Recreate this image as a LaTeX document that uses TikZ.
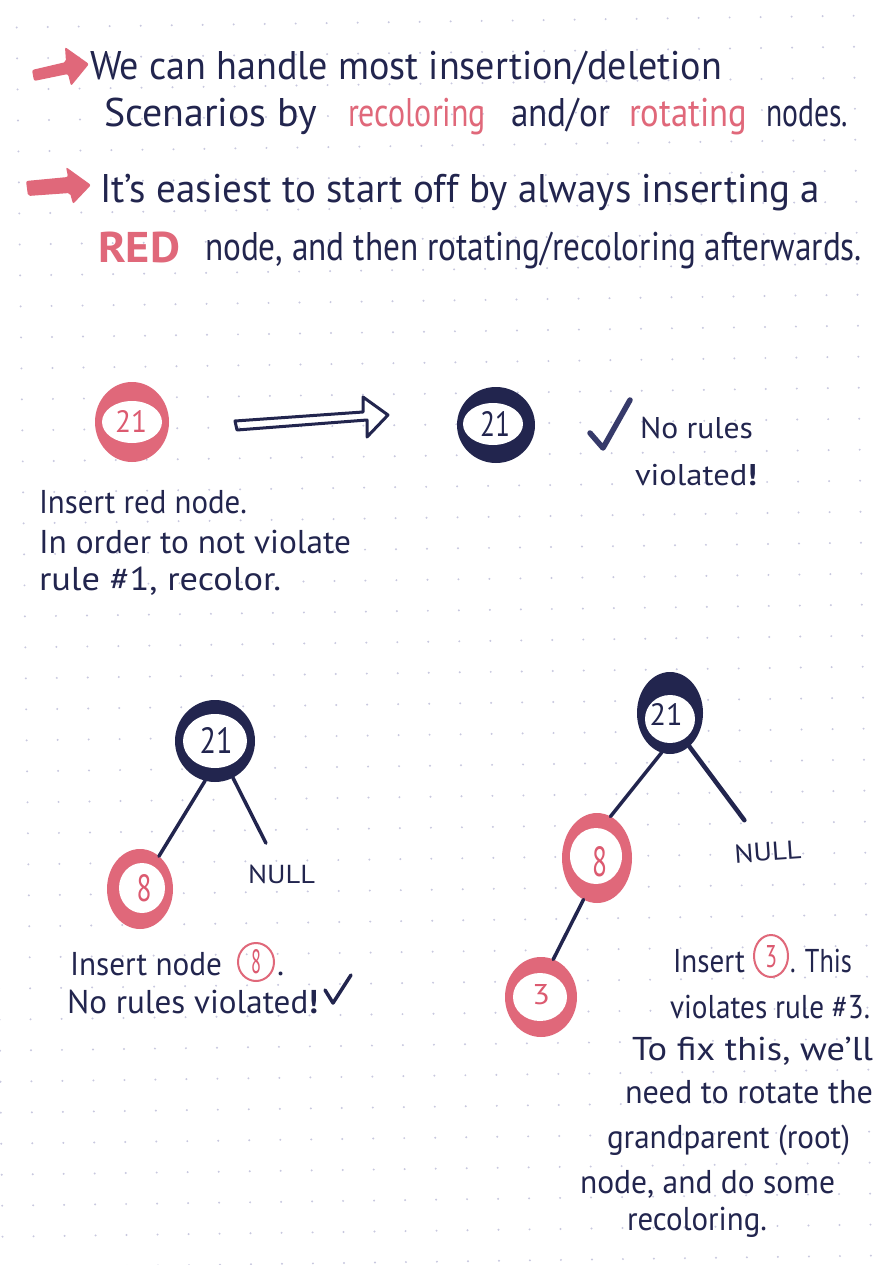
\documentclass[tikz,border=0pt]{standalone}
\usepackage{fontspec}
\setmainfont{PT Sans}
\usetikzlibrary{shapes.geometric}
\definecolor{navy}{HTML}{22254E}
\definecolor{pinkc}{HTML}{E0687A}
\definecolor{pinkt}{HTML}{DC5A70}
\definecolor{dotc}{HTML}{C8C8DF}
\definecolor{chk}{HTML}{363A6A}
\newcommand\fitw[2]{\resizebox{#1pt}{\height}{#2}}
\newcommand\fitwh[3]{\resizebox{#1pt}{#2pt}{#3}}
\begin{document}
\begin{tikzpicture}[x=1pt,y=-1pt,
  txt/.style={anchor=base west, inner sep=0pt, outer sep=0pt, text=navy, font=\fontsize{33}{33}\selectfont},
  big/.style={txt, font=\fontsize{40}{40}\selectfont},
  pinkword/.style={big, text=pinkc},
  ring/.style={ellipse, inner sep=0pt, outer sep=0pt, draw=none},
  pinkring/.style={ring, fill=pinkc},
  navyring/.style={ring, fill=navy},
  hole/.style={ring, fill=white},
  lab/.style={inner sep=0pt, outer sep=0pt},
  edgeline/.style={draw=navy, line width=3.5pt, line cap=round},
  smallcirc/.style={ellipse, draw=pinkc, line width=2pt, inner sep=0pt},
  nullstyle/.style={txt, font=\fontsize{26}{26}\selectfont},
]
\useasboundingbox (0,0) rectangle (880,1265);
\fill[white] (0,0) rectangle (880,1265);
% dot grid
\begin{scope}[rotate around={0.8:(49,120)}]
\foreach \i in {-1,...,29}{
  \foreach \j in {-1,...,41}{
    \fill[dotc] (18+31*\i, 27+31*\j) circle[radius=1.1pt];
  }
}
\end{scope}

% pink bullet arrows
\fill[pinkc, rounded corners=2pt] (32,70) -- (66,62) -- (65,47) -- (89,64) -- (71,86) -- (68,74) -- (34,81) -- cycle;
\fill[pinkc, rounded corners=2pt] (26,181) -- (68,177) -- (66,167) -- (91,185) -- (73,204) -- (70,193) -- (28,196) -- cycle;

% header text
\node[big] (t1) at (90,80) {\fitw{632}{We can handle most insertion/deletion}};
\node[big] (t2a) at (104,127) {\fitw{213}{Scenarios by}};
\node[pinkword] (t2b) at (348,127) {\fitw{138}{recoloring}};
\node[big] (t2c) at (511,127) {\fitw{99}{and/or}};
\node[pinkword] (t2d) at (629,127) {\fitw{118}{rotating}};
\node[big] (t2e) at (766,127) {\fitw{82}{nodes.}};
\node[big] (t3) at (100,203) {\fitw{720}{It’s easiest to start off by always inserting a}};
\node[big, text=pinkc, font=\fontsize{43}{43}\selectfont\bfseries] (t4a) at (98,262) {\fitw{82}{RED}};
\node[big] (t4b) at (205,260) {\fitw{657}{node, and then rotating/recoloring afterwards.}};

% first row: pink 21 -> navy 21
\node[pinkring, minimum width=74pt, minimum height=80pt] (p21) at (132,422) {};
\node[hole, minimum width=60pt, minimum height=42pt] (p21h) at (132,422) {};
\node[lab, text=pinkt, font=\fontsize{30}{30}\selectfont] (p21l) at (131,421) {\fitwh{32}{22}{21}};

\draw[navy, line width=3pt, line join=round] (235,421) -- (363,412) -- (363,397) -- (388,415) -- (367,437) -- (367,420) -- (237,430) -- cycle;

\node[navyring, minimum width=78pt, minimum height=76pt] (n21) at (496,425) {};
\node[hole, minimum width=60pt, minimum height=42pt] (n21h) at (493,424) {};
\node[lab, text=navy, font=\fontsize{30}{30}\selectfont] (n21l) at (495,424) {\fitwh{30}{25}{21}};

\draw[chk, line width=5.5pt, line cap=round, line join=round] (590,433) -- (603,448) -- (630,400);
\node[txt, font=\fontsize{30}{30}\selectfont] (nr1) at (640,438) {\fitw{113}{No rules}};
\node[txt, font=\fontsize{30}{30}\selectfont] (nr2) at (635,485) {\fitw{122}{violated\textbf{!}}};

\node[txt] (u1) at (39,513) {\fitw{208}{Insert red node.}};
\node[txt] (u2) at (39,553) {\fitw{312}{In order to not violate}};
\node[txt] (u3) at (39,590) {\fitw{242}{rule \#1, recolor.}};

% tree 1
\node[navyring, minimum width=80pt, minimum height=82pt] (r1) at (215,741) {};
\node[hole, minimum width=64pt, minimum height=54pt] (r1h) at (215,741) {};
\node[lab, text=navy, font=\fontsize{30}{30}\selectfont] (r1l) at (216,740) {\fitwh{33}{26}{21}};

\node[pinkring, minimum width=66pt, minimum height=80pt] (a8) at (140,889) {};
\node[hole, minimum width=46pt, minimum height=50pt] (a8h) at (142,888) {};
\node[lab, text=pinkt, font=\fontsize{30}{30}\selectfont] (a8l) at (144,888) {\fitwh{15}{27}{8}};

\node[nullstyle] (null1) at (248,883) {\fitw{67}{NULL}};

\draw[edgeline] (r1.-104) -- (a8.60);
\draw[edgeline, shorten >=24pt] (r1.-64) -- (null1);

\node[txt] (v1a) at (70,975) {\fitw{152}{Insert node}};
\node[smallcirc, minimum width=36pt, minimum height=38pt] (ic8) at (256,962) {};
\node[lab, text=pinkt, font=\fontsize{24}{24}\selectfont] (ic8l) at (256,962) {\fitwh{10}{24}{8}};
\node[txt] (v1b) at (277,975) {.};
\node[txt] (v2) at (67,1013) {\fitw{251}{No rules violated\textbf{!}}};
\draw[navy, line width=3.5pt, line cap=round, line join=round] (325,990) -- (333,1003) -- (351,975);

% tree 2
\node[navyring, minimum width=66pt, minimum height=82pt] (r2) at (670,713) {};
\node[hole, minimum width=50pt, minimum height=48pt] (r2h) at (670,719) {};
\node[lab, text=navy, font=\fontsize{28}{28}\selectfont] (r2l) at (666,714) {\fitwh{33}{22}{21}};

\node[pinkring, minimum width=70pt, minimum height=90pt] (b8) at (597,858) {};
\node[hole, minimum width=52pt, minimum height=56pt] (b8h) at (596,856) {};
\node[lab, text=pinkt, font=\fontsize{30}{30}\selectfont] (b8l) at (600,862) {\fitwh{15}{30}{8}};

\node[pinkring, minimum width=72pt, minimum height=80pt] (c3) at (541,997) {};
\node[hole, minimum width=54pt, minimum height=48pt] (c3h) at (540,997) {};
\node[lab, text=pinkt, font=\fontsize{28}{28}\selectfont] (c3l) at (541,995) {\fitwh{18}{20}{3}};

\node[nullstyle, rotate=4] (null2) at (735,863) {\fitw{67}{NULL}};

\draw[edgeline] (r2.-102) -- (b8.72);
\draw[edgeline, line width=4.5pt, shorten >=28pt] (r2.-60) -- (null2);
\draw[edgeline] (b8.-108) -- (c3.72);

\node[txt] (w1a) at (673,972) {\fitw{72}{Insert}};
\node[smallcirc, minimum width=34pt, minimum height=42pt] (ic3) at (771,956) {};
\node[lab, text=pinkt, font=\fontsize{24}{24}\selectfont] (ic3l) at (771,957) {\fitwh{12}{22}{3}};
\node[txt] (w1b) at (790,972) {\fitw{62}{. This}};
\node[txt] (w2) at (670,1018) {\fitw{200}{violates rule \#3.}};
\node[txt] (w3) at (632,1060) {\fitw{241}{To fix this, we’ll}};
\node[txt] (w4) at (625,1103) {\fitw{248}{need to rotate the}};
\node[txt] (w5) at (607,1148) {\fitw{243}{grandparent (root)}};
\node[txt] (w6) at (580,1193) {\fitw{255}{node, and do some}};
\node[txt] (w7) at (627,1230) {\fitw{140}{recoloring.}};
\end{tikzpicture}
\end{document}
